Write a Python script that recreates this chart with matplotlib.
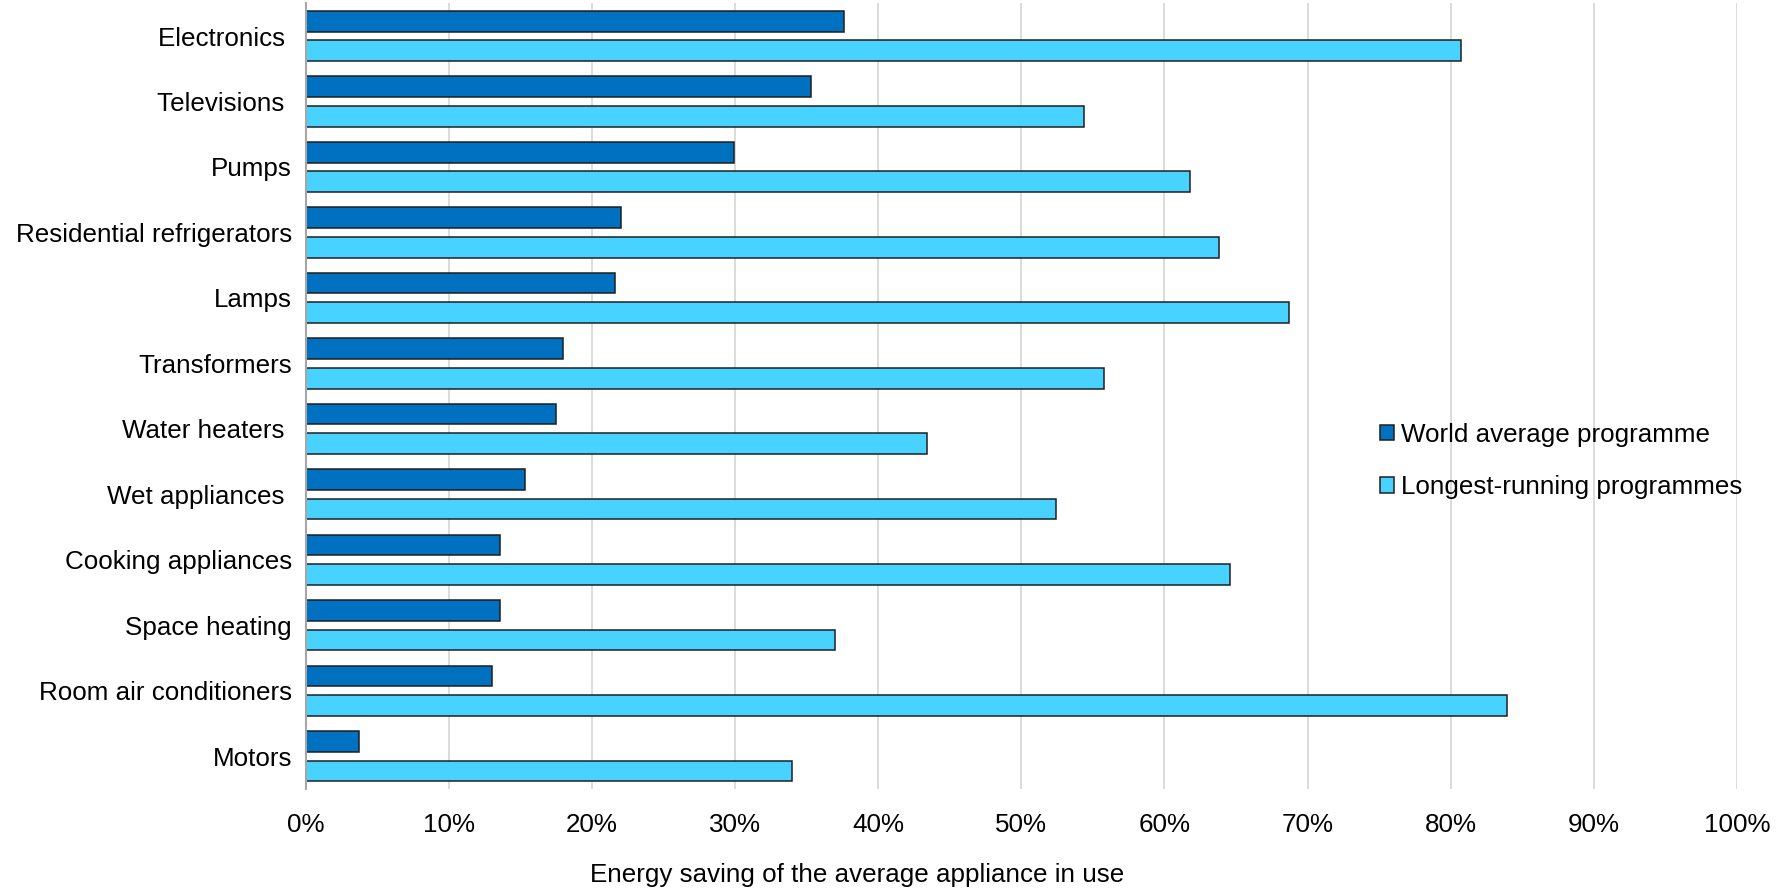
import numpy as np
import matplotlib.pyplot as plt
from matplotlib.ticker import FuncFormatter

plt.rcParams['font.family'] = ['Liberation Sans', 'DejaVu Sans']

# categories, top to bottom (trailing spaces as in the source labels)
categories = ['Electronics ', 'Televisions ', 'Pumps', 'Residential refrigerators', 'Lamps',
              'Transformers', 'Water heaters ', 'Wet appliances ', 'Cooking appliances',
              'Space heating', 'Room air conditioners', 'Motors']
world_avg = [37.6, 35.3, 29.9, 22.0, 21.6, 18.0, 17.5, 15.3, 13.6, 13.6, 13.0, 3.7]
longest = [80.7, 54.4, 61.8, 63.8, 68.7, 55.8, 43.4, 52.4, 64.6, 37.0, 83.9, 34.0]
series_names = ['World average programme', 'Longest-running programmes']
x_ticks = np.arange(0, 101, 10)

c_world = '#0070C0'
c_long = '#48D2FF'
edge = '#1f1f1f'
fs = 18.7

fig = plt.figure(figsize=(17.82, 8.90), dpi=100)
ax = fig.add_axes([0.1716, 0.1135, 0.9747 - 0.1716, 0.9963 - 0.1135])

y = np.arange(len(categories))
off = 0.226
h = 0.316
ax.barh(y - off, world_avg, height=h, color=c_world, edgecolor=edge, linewidth=1.1,
        label=series_names[0], zorder=3)
ax.barh(y + off, longest, height=h, color=c_long, edgecolor=edge, linewidth=1.1,
        label=series_names[1], zorder=3)

ax.set_ylim(len(categories) - 0.5, -0.5)
ax.set_xlim(0, 100)
ax.set_yticks(y)
ax.set_yticklabels(categories, fontsize=fs)
ax.set_xticks(x_ticks)
ax.xaxis.set_major_formatter(FuncFormatter(lambda v, p: '%d%%' % v))
ax.tick_params(axis='x', length=0, pad=17, labelsize=fs)
ax.tick_params(axis='y', length=0, pad=10)

ax.grid(axis='x', color='#d9d9d9', linewidth=1.3, zorder=0)
for s in ['top', 'right', 'bottom']:
    ax.spines[s].set_visible(False)
ax.spines['left'].set_color('#a6a6a6')
ax.spines['left'].set_linewidth(1.5)
ax.spines['left'].set_zorder(4)

fig.legend(loc='center left', bbox_to_anchor=(0.7744, 0.4822), frameon=False,
           fontsize=fs, handlelength=0.54, handleheight=0.54, handletextpad=0.26,
           labelspacing=1.1, borderpad=0, borderaxespad=0)

fig.text(0.4812, 0.0169, 'Energy saving of the average appliance in use', fontsize=fs,
         ha='center', va='center')

fig.savefig('out.png', dpi=100)
